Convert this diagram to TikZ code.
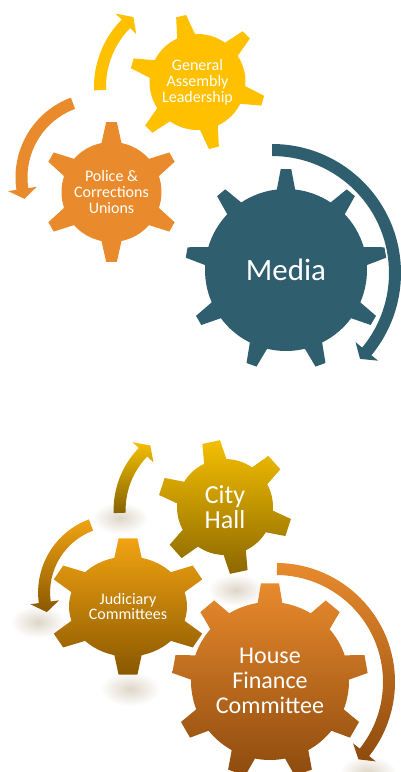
\documentclass[tikz,border=0pt]{standalone}
\usepackage{fontspec}
\setmainfont{Carlito}

\definecolor{gayellow}{HTML}{FFC000}
\definecolor{policeorange}{HTML}{E98B2C}
\definecolor{mediateal}{HTML}{2F5E6E}
\definecolor{cityhigh}{HTML}{F4BF00}
\definecolor{citylow}{HTML}{8C6800}
\definecolor{judhigh}{HTML}{F1A312}
\definecolor{judlow}{HTML}{8A5800}
\definecolor{househigh}{HTML}{E88A2D}
\definecolor{houselow}{HTML}{8E4B0E}
\definecolor{glowtint}{RGB}{222,214,200}

% teeth, outer radius, inner radius, first tooth, tip half angle, base half angle
\newcommand{\gearshape}[6]{({#4-#6}:#3) \foreach \k in {1,...,#1}{
  -- ({#4+(\k-1)*360/#1-#6}:#3) -- ({#4+(\k-1)*360/#1-#5}:#2)
  -- ({#4+(\k-1)*360/#1+#5}:#2) -- ({#4+(\k-1)*360/#1+#6}:#3)
  arc[start angle={#4+(\k-1)*360/#1+#6}, end angle={#4+\k*360/#1-#6}, radius=#3]} -- cycle}
% radius, start angle, head base angle, tip angle
\newcommand{\arcarrow}[4]{({#2}:{#1+6}) arc[start angle={#2}, end angle={#3}, radius={#1+6}]
  -- ({#3}:{#1+14.5}) -- ({#4}:#1) -- ({#3}:{#1-14.5}) -- ({#3}:{#1-6})
  arc[start angle={#3}, end angle={#2}, radius={#1-6}] -- cycle}

\tikzset{
  gear text/.style={text=white, align=center, inner sep=0pt},
  small text/.style={gear text, font=\fontsize{16}{16}\selectfont},
  glow/.style={inner color=glowtint, outer color=white}
}

\begin{document}
\begin{tikzpicture}[x=1pt,y=1pt]
\useasboundingbox (0,0) rectangle (401,-772);

% upper diagram
\coordinate (ga) at (197.5,-82);
\coordinate (police) at (111.5,-192);
\coordinate (media) at (286,-270);
\coordinate (ga arc) at (190,-87);
\coordinate (police arc) at (100.5,-177.3);
\coordinate (media arc) at (272,-273);

\path[fill=gayellow, shift={(ga arc)}] \arcarrow{90}{182}{135.4}{129};
\path[fill=policeorange, shift={(police arc)}] \arcarrow{79}{110.4}{188.5}{195.8};
\path[fill=mediateal, shift={(media arc)}] \arcarrow{123}{90}{-39.6}{-44.3};

\path[fill=gayellow, shift={(ga)}] \gearshape{6}{68}{48}{104}{4.3}{11};
\path[fill=policeorange, shift={(police)}] \gearshape{6}{70}{50}{90}{4.4}{11.5};
\path[fill=mediateal, shift={(media)}] \gearshape{9}{101}{81}{90}{3}{6.5};

\node[small text] (ga text) at (ga) {General\\Assembly\\Leadership};
\node[small text] (police text) at (police) {Police \&\\Corrections\\Unions};
\node[gear text, font=\fontsize{31}{31}\selectfont] (media text) at (media) {Media};

% lower diagram
\coordinate (city) at (225,-507);
\coordinate (judiciary) at (128,-606.5);
\coordinate (house) at (270,-681);
\coordinate (city arc) at (202.6,-510);
\coordinate (judiciary arc) at (116.1,-592.5);
\coordinate (house arc) at (276,-682);

\shade[glow] (120,-518) ellipse (28 and 16);
\shade[glow] (236,-590) ellipse (28 and 16);
\shade[glow] (38,-622) ellipse (28 and 16);
\shade[glow] (130,-689) ellipse (30 and 17);
\shade[glow] (368,-772) ellipse (28 and 16);

\path[top color=cityhigh, bottom color=citylow!95!black, shift={(city arc)}] \arcarrow{83}{182}{135.9}{129};
\path[top color=judhigh, bottom color=judlow, shift={(judiciary arc)}] \arcarrow{72}{110.4}{187.8}{195.8};
\path[top color=househigh, bottom color=houselow, shift={(house arc)}] \arcarrow{113}{89.5}{-38.5}{-43.2};

\path[top color=judhigh, bottom color=judlow, shift={(judiciary)}, xscale=1.18] \gearshape{6}{68.5}{50}{90}{6.7}{13.4};
\path[top color=cityhigh, bottom color=citylow, shift={(city)}] \gearshape{6}{67}{48}{102}{7.7}{13.7};
\path[top color=househigh, bottom color=houselow, shift={(house)}] \gearshape{9}{98}{79}{90}{5.3}{9};

\node[gear text, font=\fontsize{26}{25}\selectfont] (city text) at (city) {City\\Hall};
\node[small text, font=\fontsize{16}{15}\selectfont] (judiciary text) at (judiciary) {Judiciary\\Committees};
\node[gear text, font=\fontsize{24}{25}\selectfont] (house text) at (house) {House\\Finance\\Committee};
\end{tikzpicture}
\end{document}
